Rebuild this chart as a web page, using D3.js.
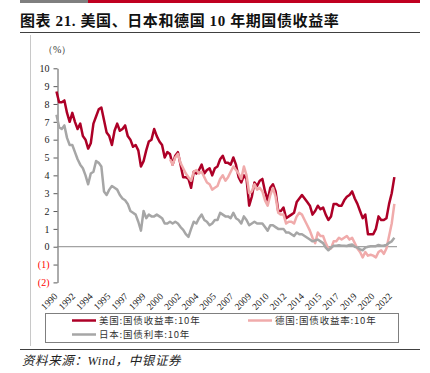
<!DOCTYPE html>
<html>
<head>
<meta charset="utf-8">
<script src="https://cdn.jsdelivr.net/npm/d3@7"></script>
<style>
  body { margin: 0; background: #fff; }
  svg { display: block; }
</style>
</head>
<body>
<div id="chart"></div>
<script>
// quarterly sample dates (decimal years), Oct 1990 -> Oct 2022
const startYear = 1990.75;
const usYield = [
  8.7, 8.1, 8.1, 8.2, 7.5, 7.0, 7.5, 7.0, 6.6, 6.9, 6.2, 6.0, 5.5, 5.8, 6.9, 7.3,
  7.7, 7.8, 7.1, 6.4, 6.2, 5.7, 6.5, 6.9, 6.5, 6.6, 6.8, 6.2, 6.0, 5.6, 5.7, 5.4,
  4.5, 4.8, 5.4, 5.9, 6.0, 6.6, 6.2, 5.9, 5.7, 5.0, 5.3, 5.2, 4.6, 5.1, 5.3, 4.6,
  3.9, 3.9, 3.8, 3.3, 4.2, 4.1, 4.3, 4.6, 4.1, 4.3, 4.4, 4.0, 4.4, 4.5, 4.9, 5.1,
  4.7, 4.7, 4.6, 5.0, 4.6, 3.9, 3.6, 4.0, 3.8, 2.3, 2.8, 3.6, 3.4, 3.7, 3.8, 3.1,
  2.6, 3.3, 3.5, 3.1, 2.0, 2.0, 2.2, 1.6, 1.7, 1.8, 1.9, 2.5, 2.7, 2.9, 2.7, 2.5,
  2.3, 1.8, 2.0, 2.3, 2.1, 2.2, 1.8, 1.5, 1.7, 2.4, 2.4, 2.3, 2.3, 2.6, 2.8, 2.9,
  3.1, 2.7, 2.4, 2.0, 1.6, 1.8, 0.7, 0.7, 0.7, 1.0, 1.7, 1.5, 1.5, 1.6, 2.4, 3.0,
  3.9
];
// Germany starts in mid 2001
const deStartYear = 2001.5;
const deYield = [
  4.9, 4.6, 5.0, 5.2, 4.7, 4.4, 4.1, 3.9, 3.7, 4.2, 4.3, 4.1, 4.2, 3.9, 3.6, 3.5,
  3.2, 3.3, 3.4, 3.8, 4.0, 3.7, 3.9, 4.2, 4.5, 4.3, 4.1, 3.8, 4.5, 4.0, 3.0, 3.1,
  3.5, 3.2, 3.3, 3.1, 2.6, 2.3, 2.9, 3.3, 2.8, 1.9, 1.8, 1.8, 1.3, 1.4, 1.4, 1.3,
  1.7, 1.9, 1.8, 1.5, 1.2, 0.9, 0.5, 0.2, 0.8, 0.6, 0.6, 0.2, -0.1, -0.1, 0.3, 0.3,
  0.5, 0.4, 0.5, 0.6, 0.4, 0.5, 0.2, -0.1, -0.3, -0.6, -0.3, -0.5, -0.45, -0.5, -0.6, -0.3,
  -0.2, -0.4, -0.1, 0.6, 1.3, 2.4
];
const jpYield = [
  7.4, 6.7, 6.6, 6.8, 6.1, 5.7, 5.7, 5.3, 4.9, 4.6, 4.4, 4.0, 3.5, 4.1, 4.2, 4.8,
  4.7, 4.5, 3.1, 2.9, 3.2, 3.4, 3.3, 3.2, 2.9, 2.7, 2.6, 2.4, 2.0, 1.9, 1.8, 1.4,
  0.9, 2.0, 1.6, 1.8, 1.7, 1.7, 1.8, 1.7, 1.6, 1.3, 1.3, 1.4, 1.3, 1.4, 1.3, 1.1,
  0.95, 0.7, 0.55, 1.0, 1.4, 1.3, 1.6, 1.8, 1.5, 1.4, 1.2, 1.3, 1.5, 1.5, 1.9, 1.8,
  1.7, 1.7, 1.6, 1.9, 1.6, 1.5, 1.3, 1.7, 1.5, 1.2, 1.3, 1.4, 1.3, 1.3, 1.3, 1.1,
  0.9, 1.2, 1.2, 1.1, 1.0, 1.0, 1.0, 0.8, 0.8, 0.7, 0.6, 0.8, 0.7, 0.7, 0.6, 0.5,
  0.4, 0.3, 0.35, 0.4, 0.3, 0.2, -0.05, -0.2, -0.05, 0.05, 0.05, 0.08, 0.05, 0.05, 0.04, 0.1,
  0.12, 0.0, -0.05, -0.15, -0.2, -0.05, 0.0, 0.03, 0.02, 0.03, 0.1, 0.06, 0.07, 0.1, 0.22, 0.3,
  0.5
];
const seriesNames = ["美国:国债收益率:10年", "德国:国债收益率:10年", "日本:国债利率:10年"];
const seriesColors = ["#ad0027", "#f0abab", "#a6a6a6"];
const yTicks = [10, 9, 8, 7, 6, 5, 4, 3, 2, 1, 0, -1, -2];
const xTickLabels = ["1990", "1992", "1994", "1995", "1997", "1999", "2000", "2002", "2004", "2005",
  "2007", "2009", "2010", "2012", "2014", "2015", "2017", "2019", "2020", "2022"];
// labels every 20 months starting Dec 1990
const xTickDates = xTickLabels.map((d, i) => 1990 + 11 / 12 + i * 20 / 12);

const W = 430, H = 373;
const svg = d3.select("#chart").append("svg")
    .attr("width", W)
    .attr("height", H);

// header bars
svg.append("rect").attr("x", 20).attr("y", 0).attr("width", 68).attr("height", 3).attr("fill", "#7f7f7f");
svg.append("rect").attr("x", 88).attr("y", 0).attr("width", 332).attr("height", 3).attr("fill", "#c00020");

svg.append("text")
    .attr("x", 20)
    .attr("y", 26)
    .attr("font-family", "'Liberation Serif', 'Noto Sans CJK SC', serif")
    .attr("font-weight", "bold")
    .attr("font-size", 15)
    .attr("letter-spacing", 0.6)
    .attr("fill", "#111")
    .text("图表 21. 美国、日本和德国 10 年期国债收益率");

svg.append("line").attr("x1", 20).attr("x2", 420).attr("y1", 32.5).attr("y2", 32.5)
    .attr("stroke", "#404040").attr("stroke-width", 1);
svg.append("line").attr("x1", 30.5).attr("x2", 30.5).attr("y1", 35).attr("y2", 346)
    .attr("stroke", "#c8c8c8").attr("stroke-width", 1);
svg.append("line").attr("x1", 20).attr("x2", 420).attr("y1", 349.5).attr("y2", 349.5)
    .attr("stroke", "#404040").attr("stroke-width", 1);

svg.append("text")
    .attr("x", 22)
    .attr("y", 365)
    .attr("font-family", "'Liberation Serif', 'Noto Sans CJK SC', serif")
    .attr("font-style", "italic")
    .attr("font-size", 12.5)
    .attr("letter-spacing", 0.6)
    .attr("fill", "#222")
    .text("资料来源：Wind，中银证券");

svg.append("text")
    .attr("x", 43)
    .attr("y", 53)
    .attr("font-family", "'Liberation Serif', serif")
    .attr("font-size", 10)
    .attr("fill", "#333")
    .text("（%）");

// scales
const x = d3.scaleLinear().domain([1990.8, 2023.0]).range([57, 397]);
const y = d3.scaleLinear().domain([-2, 10]).range([282.4, 68.3]);

// y axis
const yAxis = svg.append("g")
    .attr("transform", "translate(57.5,0)")
    .call(d3.axisLeft(y).tickValues(yTicks).tickSize(4).tickSizeOuter(0)
        .tickFormat(d => d < 0 ? `(${-d})` : d));
yAxis.select(".domain").attr("stroke", "#595959");
yAxis.selectAll(".tick line").attr("stroke", "#595959");
yAxis.selectAll(".tick text")
    .attr("x", -8)
    .attr("font-family", "'Liberation Serif', serif")
    .attr("font-size", 10)
    .attr("fill", d => d < 0 ? "#ff0000" : "#222");

// zero line
svg.append("line")
    .attr("x1", 57).attr("x2", 397)
    .attr("y1", y(0)).attr("y2", y(0))
    .attr("stroke", "#8c8c8c").attr("stroke-width", 1);

// x labels
svg.append("g").selectAll("text")
    .data(xTickLabels)
    .join("text")
    .attr("text-anchor", "end")
    .attr("transform", (d, i) => `translate(${x(xTickDates[i])},297) rotate(-45)`)
    .attr("font-family", "'Liberation Serif', serif")
    .attr("font-size", 9.5)
    .attr("fill", "#222")
    .text(d => d);

// lines
const toPoints = (vals, t0) => vals.map((v, i) => ({ t: t0 + i * 0.25, v: v }));
const line = d3.line()
    .x(d => x(d.t))
    .y(d => y(d.v));

const series = [
    toPoints(usYield, startYear),
    toPoints(deYield, deStartYear),
    toPoints(jpYield, startYear)
];
series.forEach((s, i) => {
    svg.append("path")
        .datum(s)
        .attr("fill", "none")
        .attr("stroke", seriesColors[i])
        .attr("stroke-width", 2.5)
        .attr("stroke-linejoin", "round")
        .attr("d", line);
});

// legend
svg.append("rect")
    .attr("x", 45.5).attr("y", 313.5)
    .attr("width", 353).attr("height", 29)
    .attr("fill", "#fff")
    .attr("stroke", "#7f7f7f");
const legendPos = [[72, 320.5], [248, 320.5], [72, 334.5]];
seriesNames.forEach((name, i) => {
    const [lx, ly] = legendPos[i];
    svg.append("line")
        .attr("x1", lx).attr("x2", lx + 24)
        .attr("y1", ly).attr("y2", ly)
        .attr("stroke", seriesColors[i]).attr("stroke-width", 2.5);
    svg.append("text")
        .attr("x", lx + 27)
        .attr("y", ly + 3.5)
        .attr("font-family", "'Noto Sans CJK SC', sans-serif")
        .attr("font-size", 9.5)
        .attr("letter-spacing", 0.8)
        .attr("fill", "#333")
        .text(name);
});
</script>
</body>
</html>
